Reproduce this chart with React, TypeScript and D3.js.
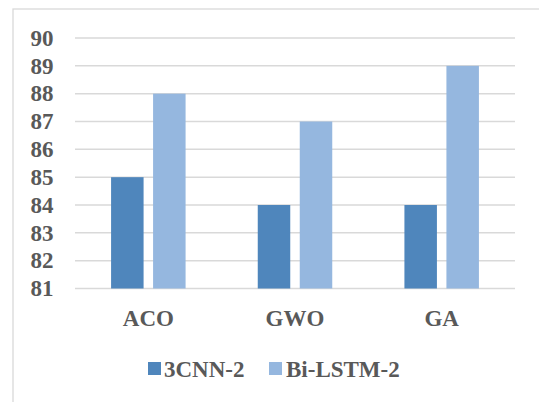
import React from "react";
import * as d3 from "d3";

const categories = ["ACO", "GWO", "GA"];
const seriesNames = ["3CNN-2", "Bi-LSTM-2"];
const cnnValues = [85, 84, 84];
const lstmValues = [88, 87, 89];
const yTicks = [81, 82, 83, 84, 85, 86, 87, 88, 89, 90];

const colors = ["#4F86BC", "#95B7DF"];
const textColor = "#595959";
const font = "Liberation Serif, Times New Roman, Times, serif";

export default function App() {
  const W = 539, H = 402;
  const left = 75, right = 515, top = 38, bottom = 288.5;
  const y = d3.scaleLinear().domain([81, 90]).range([bottom, top]);
  const x0 = d3.scaleBand<string>().domain(categories).range([left, right]).padding(0);
  const bw = x0.bandwidth();
  const groupW = 74.5;
  const x1 = d3
    .scaleBand<string>()
    .domain(seriesNames)
    .range([bw / 2 - groupW / 2, bw / 2 + groupW / 2])
    .paddingInner(9.5 / 42)
    .paddingOuter(0);
  const seriesValues = [cnnValues, lstmValues];

  const legendItems = [
    { name: seriesNames[0], sx: 148, tx: 164, color: colors[0] },
    { name: seriesNames[1], sx: 269, tx: 286, color: colors[1] },
  ];

  const textStyle: React.CSSProperties = {
    fontFamily: font,
    fontWeight: 700,
    fontSize: "23px",
  };

  return (
    <div style={{ position: "absolute", left: 0, top: 0 }}>
      <svg width={W} height={H} style={{ display: "block", background: "#fff" }}>
        <rect x={13} y={9} width={540} height={400} fill="#fff" stroke="#d9d9d9" strokeWidth={1.3} />
        {yTicks.map((t) => (
          <line key={t} x1={left} x2={right} y1={y(t)} y2={y(t)} stroke="#d9d9d9" strokeWidth={1.5} />
        ))}
        {categories.map((c, i) => (
          <g key={c} transform={`translate(${x0(c)},0)`}>
            {seriesNames.map((s, j) => (
              <rect
                key={s}
                x={x1(s)}
                y={y(seriesValues[j][i])}
                width={x1.bandwidth()}
                height={y(81) - y(seriesValues[j][i])}
                fill={colors[j]}
              />
            ))}
          </g>
        ))}
        {yTicks.map((t) => (
          <text key={t} x={53.5} y={y(t) + 7.8} textAnchor="end" style={textStyle} fill={textColor}>
            {t}
          </text>
        ))}
        {categories.map((c) => (
          <text
            key={c}
            x={(x0(c) as number) + bw / 2}
            y={325.5}
            textAnchor="middle"
            style={textStyle}
            fill={textColor}
          >
            {c}
          </text>
        ))}
        {legendItems.map((l) => (
          <g key={l.name}>
            <rect x={l.sx} y={362} width={13} height={13} fill={l.color} />
            <text x={l.tx} y={377} style={textStyle} fill={textColor}>
              {l.name}
            </text>
          </g>
        ))}
      </svg>
    </div>
  );
}
